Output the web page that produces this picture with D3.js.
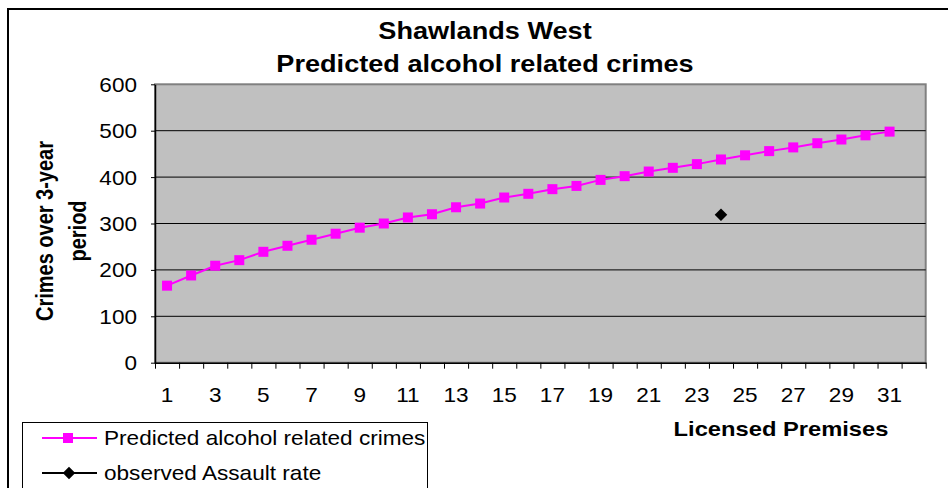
<!DOCTYPE html>
<html>
<head>
<meta charset="utf-8">
<script src="https://cdn.jsdelivr.net/npm/d3@7/dist/d3.min.js"></script>
<style>
  html, body { margin: 0; padding: 0; background: #ffffff; }
  svg { display: block; font-family: "Liberation Sans", Arial, sans-serif; }
</style>
</head>
<body>
<svg id="chart" width="948" height="488"></svg>
<script>
// ---------- data ----------
const categories = d3.range(1, 33);           // 1..32 (32 has no data)
const xTickLabels = d3.range(1, 32, 2);       // 1,3,...,31
const yTicks = [0, 100, 200, 300, 400, 500, 600];
const predictedX = d3.range(1, 32);           // 1..31
const predicted = [166, 188, 209, 221, 239, 252, 265, 278, 291, 300,
                   313, 320, 335, 343, 356, 364, 374, 381, 394, 402,
                   412, 420, 428, 438, 447, 456, 464, 473, 481, 490, 498];
const observedX = [24];
const observed = [319];
const titleLines = ["Shawlands West", "Predicted alcohol related crimes"];
const yTitleLines = ["Crimes over 3-year", "period"];
const xTitle = "Licensed Premises";
const seriesNames = ["Predicted alcohol related crimes", "observed Assault rate"];

// ---------- layout ----------
const SX = 1.13; // horizontal stretch of the original picture's text
const plot = { left: 155, right: 925.7, top: 84.3, bottom: 362.7 };
const svg = d3.select("#chart");

const x = d3.scaleBand().domain(categories).range([plot.left, plot.right]).padding(0);
const xEdge = d3.scaleLinear().domain([0, categories.length]).range([plot.left, plot.right]);
const y = d3.scaleLinear().domain([0, 600]).range([plot.bottom, plot.top]);
const cx = d => x(d) + x.bandwidth() / 2;

function sText(g, px, py, str, size, weight, anchor, rot, sx) {
  return g.append("text")
    .attr("transform", `translate(${px},${py}) scale(${sx || SX},1)` + (rot ? ` rotate(${rot})` : ""))
    .attr("text-anchor", anchor || "middle")
    .attr("font-size", size)
    .attr("font-weight", weight || "normal")
    .attr("fill", "#000")
    .text(str);
}

// outer chart frame (extends beyond the picture on right and bottom)
svg.append("rect").attr("x", 8).attr("y", 9).attr("width", 960).attr("height", 500)
  .attr("fill", "#fff").attr("stroke", "#000").attr("stroke-width", 2);

// plot area
svg.append("rect")
  .attr("x", plot.left).attr("y", plot.top)
  .attr("width", plot.right - plot.left).attr("height", plot.bottom - plot.top)
  .attr("fill", "#C0C0C0").attr("stroke", "#808080").attr("stroke-width", 2);

// gridlines
svg.append("g").selectAll("line").data(yTicks.filter(v => v > 0 && v < 600)).join("line")
  .attr("x1", plot.left).attr("x2", plot.right)
  .attr("y1", d => y(d)).attr("y2", d => y(d))
  .attr("stroke", "#000").attr("stroke-width", 1);

// y axis
const yAxis = svg.append("g").attr("transform", `translate(${plot.left},0)`)
  .call(d3.axisLeft(y).tickValues(yTicks).tickSize(4).tickSizeOuter(0).tickPadding(0));
yAxis.select(".domain").attr("stroke", "#000").attr("stroke-width", 1.5);
yAxis.selectAll(".tick line").attr("stroke", "#000");
yAxis.selectAll(".tick text")
  .attr("x", -18 / SX).attr("dy", "0.35em")
  .attr("transform", `scale(${SX},1)`)
  .attr("font-size", 20).attr("font-family", "Liberation Sans, Arial, sans-serif").attr("fill", "#000");

// x axis: boundary ticks
const xAxisTicks = svg.append("g").attr("transform", `translate(0,${plot.bottom})`)
  .call(d3.axisBottom(xEdge).tickValues(d3.range(0, categories.length + 1)).tickSize(6).tickSizeOuter(0).tickFormat(""));
xAxisTicks.select(".domain").attr("stroke", "#000").attr("stroke-width", 1.5);
xAxisTicks.selectAll(".tick line").attr("stroke", "#000");

// x axis: labels
const xAxisLabels = svg.append("g").attr("transform", `translate(0,${plot.bottom})`)
  .call(d3.axisBottom(x).tickValues(xTickLabels).tickSize(0).tickPadding(0));
xAxisLabels.select(".domain").remove();
xAxisLabels.selectAll(".tick text")
  .attr("y", 39).attr("dy", 0)
  .attr("transform", `scale(${SX},1)`)
  .attr("font-size", 20).attr("font-family", "Liberation Sans, Arial, sans-serif").attr("fill", "#000");
xAxisLabels.selectAll(".tick").each(function(d) {
  d3.select(this).attr("transform", `translate(${cx(d)},0)`);
});

// predicted series
const line = d3.line().x(d => cx(d[0])).y(d => y(d[1]));
const predData = predictedX.map((c, i) => [c, predicted[i]]);
svg.append("path").datum(predData).attr("d", line)
  .attr("fill", "none").attr("stroke", "#FF00FF").attr("stroke-width", 2);
svg.append("g").selectAll("rect").data(predData).join("rect")
  .attr("x", d => cx(d[0]) - 5).attr("y", d => y(d[1]) - 5)
  .attr("width", 10).attr("height", 10).attr("fill", "#FF00FF");

// observed series
const diamond = d3.symbol().type(d3.symbolDiamond2).size(100);
const obsData = observedX.map((c, i) => [c, observed[i]]);
svg.append("g").selectAll("path").data(obsData).join("path")
  .attr("d", diamond)
  .attr("transform", d => `translate(${cx(d[0])},${y(d[1])})`)
  .attr("fill", "#000");

// titles
sText(svg, 485, 39, titleLines[0], 24, "bold");
sText(svg, 485, 72, titleLines[1], 24, "bold");
sText(svg, 781, 436, xTitle, 21, "bold");
sText(svg, 53, 231, yTitleLines[0], 20, "bold", "middle", -90, 1.18);
sText(svg, 86, 231, yTitleLines[1], 20, "bold", "middle", -90, 1.18);

// legend
const lg = svg.append("g");
lg.append("rect").attr("x", 22.5).attr("y", 422.5).attr("width", 405).attr("height", 80)
  .attr("fill", "#fff").attr("stroke", "#000").attr("stroke-width", 1);
const legendRows = [
  { name: seriesNames[0], color: "#FF00FF", y: 438, marker: "square" },
  { name: seriesNames[1], color: "#000000", y: 473, marker: "diamond" }
];
legendRows.forEach(r => {
  lg.append("line").attr("x1", 42).attr("x2", 97).attr("y1", r.y).attr("y2", r.y)
    .attr("stroke", r.color).attr("stroke-width", 2);
  if (r.marker === "square") {
    lg.append("rect").attr("x", 63).attr("y", r.y - 5).attr("width", 10).attr("height", 10).attr("fill", r.color);
  } else {
    lg.append("path").attr("d", diamond).attr("transform", `translate(69,${r.y})`).attr("fill", r.color);
  }
  sText(lg, 104, r.y + 6.5, r.name, 20, "normal", "start");
});
</script>
</body>
</html>
